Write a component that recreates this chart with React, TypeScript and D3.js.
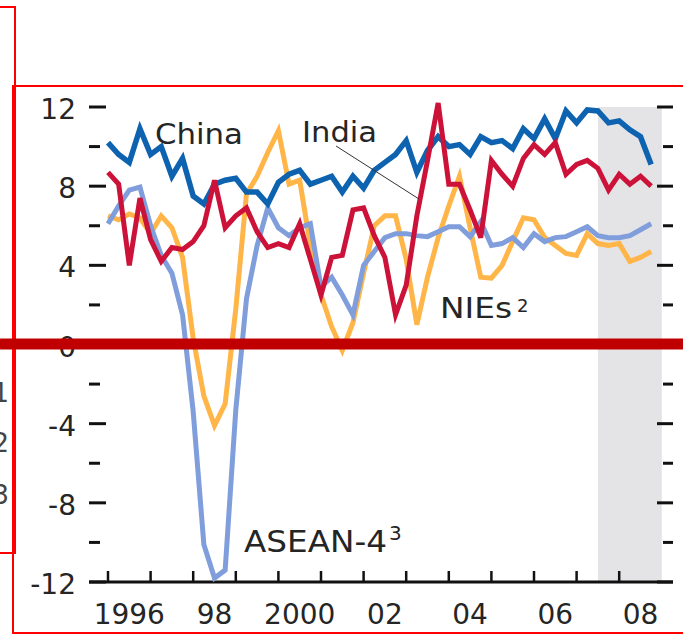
import * as d3 from "d3";

// quarterly growth, 1996Q1 .. 2008Q4 (percent)
const startYear = 1996;
const china = [
  10.2, 9.6, 9.2, 10.9, 9.6, 10.0, 8.5, 9.4, 7.5, 7.1,
  8.1, 8.3, 8.4, 7.7, 7.7, 7.1, 8.2, 8.6, 8.8, 8.1,
  8.3, 8.5, 7.7, 8.5, 7.9, 8.8, 9.2, 9.6, 10.3, 8.7,
  9.8, 10.5, 10.0, 10.1, 9.6, 10.5, 10.2, 10.3, 9.9, 10.9,
  10.4, 11.4, 10.4, 11.8, 11.2, 11.85, 11.8, 11.2, 11.3, 10.85,
  10.5, 9.1,
];
const india = [
  8.7, 8.1, 4.0, 7.4, 5.3, 4.2, 4.9, 4.8, 5.2, 6.0,
  8.3, 5.9, 6.5, 6.9, 5.7, 4.9, 5.1, 4.9, 6.1, 4.3,
  2.5, 4.4, 4.5, 6.8, 6.9, 5.5, 4.4, 1.5, 3.0, 6.5,
  9.3, 12.2, 8.1, 8.1, 6.8, 5.4, 9.3, 8.6, 8.0, 9.4,
  10.1, 9.6, 10.2, 8.6, 9.1, 9.3, 8.9, 7.8, 8.6, 8.1,
  8.5, 8.0,
];
const nies = [
  6.5, 6.3, 6.6, 6.4, 5.6, 6.5, 5.9, 4.4, 0.3, -2.6,
  -4.1, -3.0, 1.8, 7.6, 8.5, 9.7, 10.8, 8.1, 8.3, 5.0,
  2.5, 0.9, -0.3, 1.1, 3.6, 6.0, 6.5, 6.5, 4.3, 1.0,
  3.4, 5.4, 7.0, 8.5, 5.9, 3.4, 3.35, 4.0, 5.2, 6.4,
  6.3, 5.4, 5.0, 4.6, 4.5, 5.6, 5.1, 5.0, 5.1, 4.2,
  4.4, 4.7,
];
const asean = [
  6.1, 7.0, 7.8, 7.95, 6.0, 4.5, 3.6, 1.5, -3.4, -10.1,
  -11.8, -11.4, -3.3, 2.3, 5.0, 6.9, 5.9, 5.5, 5.9, 6.1,
  2.9, 3.4, 2.5, 1.5, 4.0, 4.7, 5.4, 5.6, 5.6, 5.5,
  5.45, 5.7, 5.95, 5.95, 5.45, 6.2, 5.0, 5.1, 5.4, 4.9,
  5.6, 5.2, 5.4, 5.45, 5.7, 5.95, 5.5, 5.4, 5.4, 5.5,
  5.8, 6.1,
];

const yMajor = [12, 8, 4, 0, -4, -8, -12];
const yMinor = [10, 6, 2, -2, -6, -10];
const xTickYears = d3.range(1996, 2009);
const xLabels = ["1996", "98", "2000", "02", "04", "06", "08"];
const xLabelYears = [1996, 1998, 2000, 2002, 2004, 2006, 2008];
const shadeFrom = 2007.5;
const shadeTo = 2009;

const W = 683;
const H = 636;
const font = "'DejaVu Sans', sans-serif";
const ink = "#252525";

const x = d3.scaleLinear().domain([1996, 2009]).range([108, 661.8]);
const y = d3.scaleLinear().domain([-12, 12]).range([582, 107]);

const series = [
  { name: "NIEs", values: nies, color: "#ffb548", width: 5 },
  { name: "ASEAN-4", values: asean, color: "#7f9edb", width: 5 },
  { name: "China", values: china, color: "#0d63b0", width: 5.5 },
  { name: "India", values: india, color: "#cc1238", width: 5 },
];

const line = d3
  .line<number>()
  .x((d, i) => x(startYear + i / 4))
  .y((d) => y(d));

export default function App() {
  return (
    <svg
      width={W}
      height={H}
      viewBox={`0 0 ${W} ${H}`}
      style={{ position: "absolute", left: 0, top: 0, background: "#fff" }}
    >
      {/* forecast shading */}
      <rect
        x={x(shadeFrom)}
        y={y(12)}
        width={x(shadeTo) - x(shadeFrom)}
        height={y(-12) - y(12)}
        fill="#e4e4e6"
      />

      {/* left / right ticks */}
      {yMajor.map((v) => (
        <g key={"M" + v}>
          <line x1={89} x2={106} y1={y(v)} y2={y(v)} stroke="#111" strokeWidth={3} />
          <line x1={657} x2={673} y1={y(v)} y2={y(v)} stroke="#111" strokeWidth={3} />
          <text
            x={76}
            y={y(v) + 12}
            textAnchor="end"
            fontFamily={font}
            fontSize={28}
            fill={ink}
          >
            {v < 0 ? "-" + Math.abs(v) : v}
          </text>
        </g>
      ))}
      {yMinor.map((v) => (
        <g key={"m" + v}>
          <line x1={89} x2={100} y1={y(v)} y2={y(v)} stroke="#111" strokeWidth={3} />
          <line x1={663} x2={673} y1={y(v)} y2={y(v)} stroke="#111" strokeWidth={3} />
        </g>
      ))}

      {/* x axis */}
      <line x1={89} x2={673} y1={y(-12)} y2={y(-12)} stroke="#111" strokeWidth={3} />
      {xTickYears.map((yr) => (
        <line
          key={yr}
          x1={x(yr)}
          x2={x(yr)}
          y1={y(-12)}
          y2={y(-12) - 11}
          stroke="#111"
          strokeWidth={2.5}
        />
      ))}
      {xLabels.map((lab, i) => (
        <text
          key={lab}
          x={x(xLabelYears[i] + 0.5)}
          y={623.5}
          textAnchor="middle"
          fontFamily={font}
          fontSize={28}
          fill={ink}
        >
          {lab}
        </text>
      ))}

      {/* series */}
      {series.map((s) => (
        <path
          key={s.name}
          d={line(s.values) || ""}
          fill="none"
          stroke={s.color}
          strokeWidth={s.width}
          strokeLinejoin="miter"
        />
      ))}

      {/* labels */}
      <text x={155} y={144} fontFamily={font} fontSize={29} fill={ink} textLength={88} lengthAdjust="spacingAndGlyphs">
        China
      </text>
      <text x={302} y={142} fontFamily={font} fontSize={29} fill={ink} textLength={75} lengthAdjust="spacingAndGlyphs">
        India
      </text>
      <line x1={336} y1={146} x2={419} y2={199} stroke="#333" strokeWidth={1} />
      <text x={440} y={317.5} fontFamily={font} fontSize={29} fill={ink} textLength={72} lengthAdjust="spacingAndGlyphs">
        NIEs
      </text>
      <text x={517} y={312} fontFamily={font} fontSize={18} fill={ink}>
        2
      </text>
      <text x={244} y={551.5} fontFamily={font} fontSize={30} fill={ink} textLength={143} lengthAdjust="spacingAndGlyphs">
        ASEAN-4
      </text>
      <text x={389} y={540} fontFamily={font} fontSize={20} fill={ink}>
        3
      </text>

      {/* fragments of the neighbouring panel */}
      {["1", "2", "3"].map((t, i) => (
        <text
          key={t}
          x={9}
          y={[402, 452, 504][i]}
          textAnchor="end"
          fontFamily={font}
          fontSize={26}
          fill="#444"
        >
          {t}
        </text>
      ))}

      {/* markup frames */}
      <rect x={-5} y={7} width={20} height={546} fill="none" stroke="#ff0000" strokeWidth={2} />
      <rect x={13} y={86} width={690} height={547} fill="none" stroke="#ff0000" strokeWidth={2} />
      <line x1={0} x2={W} y1={344} y2={344} stroke="#c00000" strokeWidth={11} />
    </svg>
  );
}
